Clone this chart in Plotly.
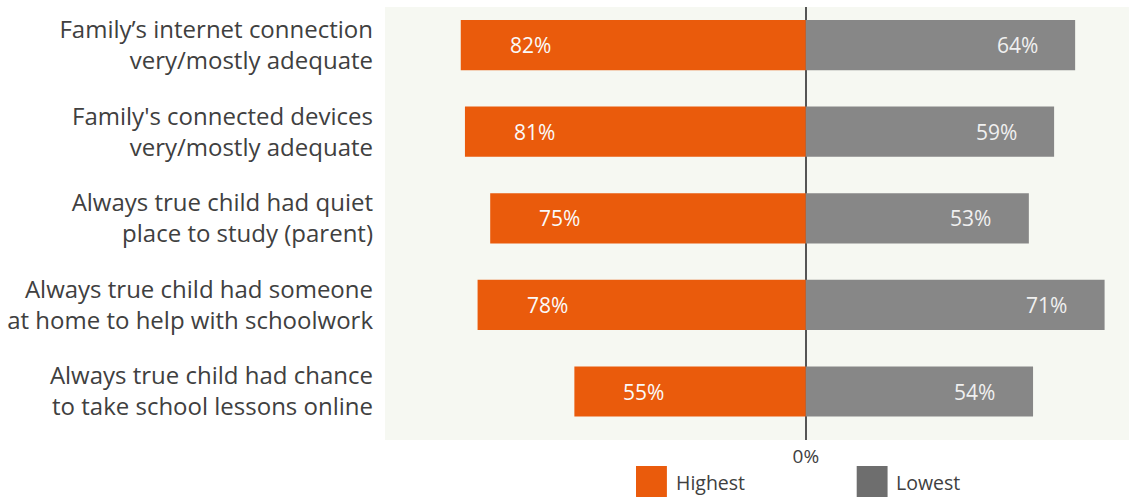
import plotly.graph_objects as go

# Share of students whose home conditions supported remote learning,
# comparing the highest and lowest groups
categories = [
    "Family’s internet connection<br>very/mostly adequate",
    "Family's connected devices<br>very/mostly adequate",
    "Always true child had quiet<br>place to study (parent)",
    "Always true child had someone<br>at home to help with schoolwork",
    "Always true child had chance<br>to take school lessons online",
]
highest = [82, 81, 75, 78, 55]
lowest = [64, 59, 53, 71, 54]
series_names = ["Highest", "Lowest"]

ORANGE = "#EA5B0C"
GREY_BAR = "#878787"
GREY_KEY = "#6E6E6E"
TEXT = "#404040"
FONT = "Open Sans, sans-serif"

fig = go.Figure()

# Highest drawn to the left of zero, Lowest to the right
fig.add_trace(go.Bar(
    y=categories, x=[-v for v in highest], orientation="h",
    marker=dict(color=ORANGE, line=dict(width=0)), name=series_names[0],
    hovertemplate="%{y}: %{customdata}%<extra>Highest</extra>", customdata=highest,
))
fig.add_trace(go.Bar(
    y=categories, x=lowest, orientation="h",
    marker=dict(color=GREY_BAR, line=dict(width=0)), name=series_names[1],
    hovertemplate="%{y}: %{x}%<extra>Lowest</extra>",
))

# Value labels sit inside each bar, set in from its outer end
LEFT_INSET = 16.5
RIGHT_INSET = 13.8
annotations = []
for cat, h, l in zip(categories, highest, lowest):
    annotations.append(dict(x=-h + LEFT_INSET, y=cat, xref="x", yref="y",
                            text=f"{h}%", showarrow=False,
                            font=dict(family=FONT, size=21, color="#FAFAFA")))
    annotations.append(dict(x=l - RIGHT_INSET, y=cat, xref="x", yref="y",
                            text=f"{l}%", showarrow=False,
                            font=dict(family=FONT, size=21, color="#F0F0F0")))

# Custom legend with large square keys below the plot
legend_items = [(series_names[0], ORANGE, 0.3374), (series_names[1], GREY_KEY, 0.634)]
shapes = []
for name, color, x0 in legend_items:
    shapes.append(dict(type="rect", xref="paper", yref="paper",
                       x0=x0, x1=x0 + 0.0415, y0=-0.1316, y1=-0.060,
                       fillcolor=color, line=dict(width=0)))
    annotations.append(dict(x=x0 + 0.0505, y=-0.099, xref="paper", yref="paper",
                            text=name, showarrow=False, xanchor="left", yanchor="middle",
                            font=dict(family=FONT, size=19.5, color=TEXT)))

fig.update_layout(
    width=1129, height=498,
    margin=dict(l=385, r=0, t=7, b=58),
    paper_bgcolor="white",
    plot_bgcolor="#F6F8F2",
    barmode="overlay",
    bargap=0.42,
    showlegend=False,
    font=dict(family=FONT, color=TEXT),
    shapes=shapes,
    annotations=annotations,
)
fig.update_xaxes(
    range=[-100, 76.8], tickvals=[0], ticktext=["0%"],
    showgrid=False, zeroline=True, zerolinecolor="#555555", zerolinewidth=2,
    tickfont=dict(family=FONT, size=19, color=TEXT), ticks="", ticklabelstandoff=3,
    fixedrange=True,
)
fig.update_yaxes(
    range=[4.56, -0.44], showgrid=False, ticks="", ticklabelstandoff=11,
    tickfont=dict(family=FONT, size=24, color=TEXT), fixedrange=True,
)

fig.write_html("out.html")
